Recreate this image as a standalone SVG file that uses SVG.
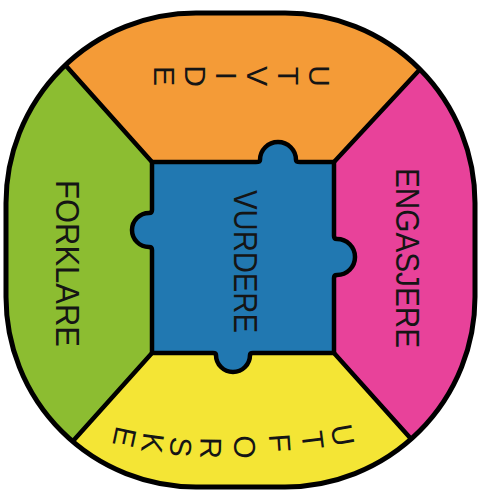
<svg xmlns="http://www.w3.org/2000/svg" width="482" height="492" viewBox="0 0 482 492">
<style>
.lbl{font-family:"Liberation Sans",Arial,sans-serif;fill:#151515}
.side{font-size:34px}
.arc{font-size:30px}
.edge{stroke:#000;stroke-width:4.5;stroke-linecap:round;fill:none}
</style>
<defs>
<rect id="outerShape" x="6" y="13" width="469" height="474" rx="190" ry="190"/>
<clipPath id="clip"><use href="#outerShape"/></clipPath>
</defs>
<rect width="482" height="492" fill="#fff"/>
<g id="utvide">
<polygon points="152,162 -18,-28 494,-10 334,162" fill="#F49B37" clip-path="url(#clip)"/>
<text class="lbl arc" x="309.26 278.26 247.26 216.26 185.26 154.26" y="65.17 66.84 66 71.83 65.17 66" rotate="90">UTVIDE</text>
</g>
<g id="forklare">
<polygon points="152,353 -12,535 -18,-28 152,162" fill="#8CBD31" clip-path="url(#clip)"/>
<text class="lbl side" transform="translate(68,263.5) rotate(90)" x="0" y="12" text-anchor="middle" textLength="167" lengthAdjust="spacingAndGlyphs">FORKLARE</text>
</g>
<g id="engasjere">
<polygon points="334,162 494,-10 486,523 334,353" fill="#E8429A" clip-path="url(#clip)"/>
<text class="lbl side" transform="translate(408,258) rotate(90)" x="0" y="12" text-anchor="middle" textLength="180" lengthAdjust="spacingAndGlyphs">ENGASJERE</text>
</g>
<g id="utforske">
<polygon points="334,353 486,523 -12,535 152,353" fill="#F4E535" clip-path="url(#clip)"/>
<text class="lbl arc" x="330.54 301.22 268.65 234.06 200.45 170.99 143.75 116.58" y="426.19 432.21 434.6 435.52 436.98 436.27 431.6 424.99" rotate="80 83 86 89 91 94 98 102">UTFORSKE</text>
</g>
<g id="vurdere">
<path d="M152,162 H256 C259,162 260,161 260,160 A18,18 0 0 1 296,160 C296,161 297,162 300,162 H334 V236 C334,238 335,239 337,239 A18,18 0 0 1 337,275 C335,275 334,276 334,278 V353 H253 C251,353 250,354 250,355 A17,17 0 0 1 216,355 C216,354 215,353 213,353 H152 V250 C152,248 151,247 149,247 A17,17 0 0 1 149,213 C151,213 152,212 152,210 Z" fill="#2178B1" stroke="#000" stroke-width="4.5" stroke-linejoin="round"/>
<text class="lbl side" transform="translate(245.5,261.5) rotate(90)" x="0" y="12" text-anchor="middle" textLength="143" lengthAdjust="spacingAndGlyphs">VURDERE</text>
</g>
<g id="connectors" clip-path="url(#clip)">
<line class="edge" x1="152" y1="162" x2="17" y2="11"/>
<line class="edge" x1="334" y1="162" x2="462" y2="24"/>
<line class="edge" x1="152" y1="353" x2="21" y2="499"/>
<line class="edge" x1="334" y1="353" x2="456" y2="489"/>
</g>
<use href="#outerShape" fill="none" stroke="#000" stroke-width="5"/>
</svg>
